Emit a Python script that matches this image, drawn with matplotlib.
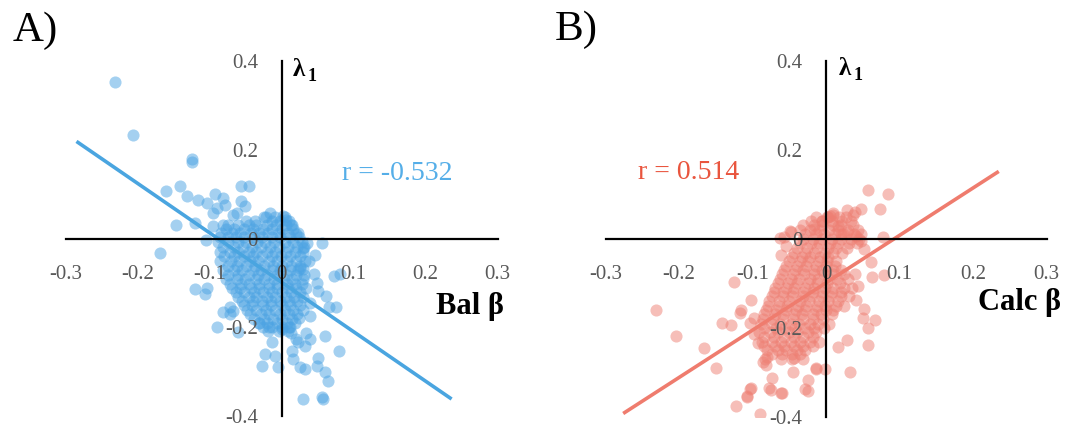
import matplotlib
matplotlib.use('Agg')
import matplotlib.pyplot as plt

plt.rcParams['font.family'] = ['Liberation Serif', 'DejaVu Serif']

# ---------------- data ----------------
x_ticks = [-0.3, -0.2, -0.1, 0, 0.1, 0.2, 0.3]
x_tick_labels = ['-0.3', '-0.2', '-0.1', '0', '0.1', '0.2', '0.3']
y_ticks = [-0.4, -0.2, 0, 0.2, 0.4]
y_tick_labels = ['-0.4', '-0.2', '0', '0.2', '0.4']

panel_labels = ['A)', 'B)']
x_axis_titles = ['Bal β', 'Calc β']
r_values = [-0.532, 0.514]

# Panel A (Bal beta vs lambda1): scattered points read individually
bal_points = [
    (-0.231, 0.353), (-0.206, 0.233), (-0.125, 0.180), (-0.125, 0.172), (-0.141, 0.120),
    (-0.161, 0.107), (-0.132, 0.097), (-0.116, 0.088), (-0.104, 0.081), (-0.093, 0.100),
    (-0.081, 0.092), (-0.079, 0.077), (-0.090, 0.070), (-0.095, 0.058), (-0.056, 0.120),
    (-0.046, 0.118), (-0.056, 0.085), (-0.051, 0.073), (-0.062, 0.058), (-0.147, 0.032),
    (-0.016, 0.058), (-0.025, 0.050), (-0.169, -0.032), (-0.121, 0.036), (-0.105, -0.002),
    (-0.095, 0.028), (-0.081, 0.032), (-0.067, 0.054), (0.002, 0.051), (0.006, 0.043),
    (0.015, 0.030), (0.020, 0.011),
    (0.056, -0.009), (0.046, -0.036), (0.030, -0.069), (0.025, -0.066), (0.072, -0.084),
    (0.081, -0.080), (0.049, -0.099), (0.051, -0.118), (0.062, -0.130), (0.066, -0.153),
    (0.076, -0.155), (0.040, -0.145), (0.038, -0.050), (0.030, -0.020), (0.035, -0.010),
    (0.045, -0.080),
    (-0.120, -0.114), (-0.104, -0.110), (-0.106, -0.125), (-0.072, -0.155), (-0.072, -0.170),
    (-0.081, -0.166), (-0.090, -0.200), (-0.060, -0.211), (-0.067, -0.164),
    (-0.023, -0.260), (-0.009, -0.264), (-0.028, -0.286), (-0.005, -0.290), (0.014, -0.253),
    (0.016, -0.271), (0.025, -0.290), (0.032, -0.294), (0.051, -0.268), (0.049, -0.286),
    (0.060, -0.301), (0.065, -0.320), (0.030, -0.361), (0.056, -0.357), (0.058, -0.362),
    (0.079, -0.253), (0.060, -0.219), (0.039, -0.226), (0.032, -0.241), (0.023, -0.233),
    (-0.013, -0.232), (0.013, -0.213), (0.010, -0.200), (0.000, -0.204), (-0.018, -0.198),
    (-0.032, -0.190), (0.024, -0.178), (0.039, -0.175), (0.034, -0.213), (0.020, -0.226),
]

# Panel A dense core, read row by row (y, list of x)
bal_blob_rows = [
    (0.048, [-0.022, -0.009, 0.004]),
    (0.040, [-0.050, -0.037, -0.014, -0.002, 0.010]),
    (0.031, [-0.074, -0.061, -0.046, -0.035, -0.020, -0.008, 0.006, 0.013]),
    (0.021, [-0.078, -0.066, -0.052, -0.040, -0.026, -0.013, 0.000, 0.016]),
    (0.012, [-0.084, -0.069, -0.058, -0.043, -0.031, -0.019, -0.004, 0.009, 0.022]),
    (0.003, [-0.086, -0.075, -0.064, -0.052, -0.038, -0.027, -0.013, -0.002, 0.012, 0.024]),
    (-0.008, [-0.088, -0.075, -0.060, -0.049, -0.034, -0.023, -0.010, 0.005, 0.016, 0.028]),
    (-0.018, [-0.082, -0.066, -0.054, -0.041, -0.029, -0.016, -0.004, 0.009, 0.021, 0.031]),
    (-0.029, [-0.086, -0.072, -0.061, -0.046, -0.035, -0.020, -0.009, 0.006, 0.019, 0.030]),
    (-0.040, [-0.080, -0.066, -0.053, -0.040, -0.027, -0.014, -0.001, 0.012, 0.025]),
    (-0.051, [-0.085, -0.070, -0.059, -0.044, -0.033, -0.018, -0.007, 0.008, 0.020, 0.033]),
    (-0.061, [-0.075, -0.062, -0.050, -0.037, -0.025, -0.012, 0.000, 0.013, 0.025]),
    (-0.070, [-0.081, -0.066, -0.055, -0.040, -0.029, -0.014, -0.003, 0.012, 0.023]),
    (-0.081, [-0.074, -0.060, -0.046, -0.033, -0.020, -0.007, 0.007, 0.020, 0.031]),
    (-0.091, [-0.077, -0.062, -0.051, -0.036, -0.025, -0.010, 0.003, 0.014, 0.029]),
    (-0.101, [-0.072, -0.056, -0.045, -0.031, -0.018, -0.006, 0.008, 0.019, 0.028]),
    (-0.110, [-0.069, -0.058, -0.043, -0.032, -0.017, -0.006, 0.009, 0.020, 0.034]),
    (-0.121, [-0.064, -0.052, -0.039, -0.026, -0.013, 0.000, 0.013, 0.025]),
    (-0.131, [-0.061, -0.046, -0.035, -0.020, -0.009, 0.006, 0.017, 0.030]),
    (-0.140, [-0.055, -0.040, -0.028, -0.015, -0.002, 0.010, 0.021]),
    (-0.149, [-0.052, -0.041, -0.026, -0.015, 0.000, 0.011, 0.026]),
    (-0.160, [-0.048, -0.035, -0.022, -0.009, 0.004, 0.016, 0.029]),
    (-0.170, [-0.044, -0.029, -0.018, -0.003, 0.010, 0.021]),
    (-0.180, [-0.038, -0.025, -0.012, 0.001, 0.014]),
    (-0.189, [-0.032, -0.021, -0.006, 0.007, 0.018]),
    (-0.198, [-0.026, -0.013, 0.000, 0.012]),
    (-0.208, [-0.019, -0.004, 0.009]),
]

# Panel B (Calc beta vs lambda1)
calc_points = [
    (0.057, 0.110), (0.084, 0.102), (0.073, 0.068), (0.048, 0.068), (0.039, 0.061),
    (0.029, 0.065), (0.009, 0.058), (0.002, 0.050), (0.077, 0.005), (0.061, -0.052),
    (0.063, -0.086), (0.079, -0.082), (0.039, -0.079), (0.043, -0.105), (0.041, -0.138),
    (0.052, -0.157), (0.066, -0.183), (0.050, -0.179), (0.057, -0.200), (0.057, -0.239),
    (0.029, -0.228), (0.016, -0.243), (0.032, -0.299), (-0.014, -0.291), (-0.002, -0.294),
    (-0.025, -0.317), (-0.025, -0.343), (-0.045, -0.299), (-0.044, -0.267), (-0.061, -0.347),
    (-0.073, -0.314), (-0.075, -0.340), (-0.102, -0.336), (-0.107, -0.355), (-0.122, -0.377),
    (-0.090, -0.395), (-0.086, -0.276), (-0.082, -0.283), (-0.150, -0.291), (-0.166, -0.246),
    (-0.141, -0.190), (-0.129, -0.194), (-0.125, -0.097), (-0.116, -0.160), (-0.102, -0.138),
    (-0.098, -0.179), (-0.098, -0.213), (-0.093, -0.235), (-0.061, -0.037), (-0.054, -0.015),
    (-0.048, 0.015), (-0.057, 0.004), (-0.016, 0.022), (-0.005, 0.041), (0.005, 0.052),
    (0.016, 0.030), (0.020, 0.011), (0.029, 0.015), (0.041, 0.007), (0.048, -0.004),
    (0.052, -0.022), (-0.2045, -0.219), (-0.232, -0.159), (-0.103, -0.189), (-0.078, -0.335),
    (-0.103, -0.339), (-0.108, -0.354), (-0.060, -0.346), (-0.029, -0.339), (-0.013, -0.294),
    (-0.063, 0.002), (-0.049, 0.017), (0.010, 0.054), (0.037, 0.054), (-0.117, -0.167),
    (-0.083, -0.271), (-0.080, -0.265),
]

calc_blob_rows = [
    (0.049, [-0.013, 0.001, 0.017, 0.027]),
    (0.040, [-0.020, -0.006, 0.008, 0.022, 0.034]),
    (0.031, [-0.031, -0.016, -0.005, 0.010, 0.021, 0.036]),
    (0.021, [-0.036, -0.022, -0.010, 0.004, 0.016, 0.030, 0.043]),
    (0.011, [-0.029, -0.014, -0.003, 0.012, 0.023, 0.038, 0.048]),
    (0.001, [-0.032, -0.018, -0.006, 0.008, 0.020, 0.034, 0.045]),
    (-0.009, [-0.036, -0.021, -0.010, 0.005, 0.016, 0.031, 0.042]),
    (-0.020, [-0.040, -0.026, -0.012, 0.002, 0.014, 0.028]),
    (-0.031, [-0.043, -0.028, -0.017, -0.002, 0.009, 0.022]),
    (-0.040, [-0.047, -0.033, -0.022, -0.008, 0.003]),
    (-0.050, [-0.051, -0.036, -0.025, -0.010, 0.001, 0.014]),
    (-0.060, [-0.054, -0.040, -0.027, -0.013, 0.000, 0.012]),
    (-0.071, [-0.057, -0.042, -0.031, -0.016, -0.005, 0.010, 0.021]),
    (-0.080, [-0.060, -0.045, -0.030, -0.016, -0.003, 0.010, 0.024]),
    (-0.090, [-0.063, -0.048, -0.037, -0.022, -0.011, 0.004, 0.015, 0.030]),
    (-0.100, [-0.066, -0.052, -0.039, -0.025, -0.012, 0.001, 0.019]),
    (-0.111, [-0.069, -0.054, -0.043, -0.028, -0.017, -0.002, 0.009, 0.024, 0.035]),
    (-0.120, [-0.071, -0.058, -0.045, -0.031, -0.018, -0.005, 0.008, 0.021]),
    (-0.129, [-0.073, -0.058, -0.047, -0.032, -0.021, -0.006, 0.005, 0.020, 0.031]),
    (-0.140, [-0.077, -0.064, -0.050, -0.036, -0.023, -0.010, 0.003, 0.016]),
    (-0.151, [-0.079, -0.064, -0.053, -0.038, -0.027, -0.012, -0.001, 0.014, 0.025]),
    (-0.160, [-0.082, -0.068, -0.055, -0.041, -0.028, -0.014, 0.000, 0.010]),
    (-0.170, [-0.085, -0.070, -0.059, -0.044, -0.033, -0.018, -0.007, 0.008]),
    (-0.180, [-0.086, -0.072, -0.058, -0.045, -0.031, -0.018, -0.004]),
    (-0.191, [-0.089, -0.074, -0.063, -0.048, -0.037, -0.022, -0.011, 0.004]),
    (-0.200, [-0.084, -0.068, -0.056, -0.042, -0.029, -0.016, -0.003]),
    (-0.209, [-0.091, -0.076, -0.065, -0.050, -0.039, -0.024, -0.013]),
    (-0.220, [-0.085, -0.071, -0.057, -0.044, -0.031, -0.018]),
    (-0.231, [-0.087, -0.074, -0.061, -0.048, -0.035, -0.022, -0.009]),
    (-0.240, [-0.084, -0.070, -0.057, -0.044, -0.031, -0.018]),
    (-0.250, [-0.081, -0.066, -0.055, -0.040, -0.029]),
    (-0.260, [-0.074, -0.060, -0.047, -0.035]),
    (-0.271, [-0.061, -0.046, -0.031]),
]

# Linear trend lines
bal_trend_x = [-0.285, 0.236]
bal_slope, bal_intercept = -1.115, -0.0983
calc_trend_x = [-0.276, 0.235]
calc_slope, calc_intercept = 1.067, -0.0986

# ---------------- styling ----------------
BLUE_PT, BLUE_LINE, BLUE_TXT = '#4BA3E3', '#4AA5E0', '#55AEE8'
RED_PT, RED_LINE, RED_TXT = '#EE7E72', '#EF7C6E', '#E9553E'
TICK_COL = '#595959'


def expand(points, rows):
    xs = [p[0] for p in points]
    ys = [p[1] for p in points]
    for yv, xr in rows:
        for xv in xr:
            xs.append(xv)
            ys.append(yv)
    return xs, ys


fig = plt.figure(figsize=(10.68, 4.29), dpi=100)
axA = fig.add_axes([0.0615, 0.0300, 0.4045, 0.8270])
axB = fig.add_axes([0.5670, 0.0290, 0.4129, 0.8280])

panels = [
    (axA, expand(bal_points, bal_blob_rows), bal_trend_x, bal_slope, bal_intercept,
     BLUE_PT, BLUE_LINE, BLUE_TXT, (0.160, 0.133), (0.309, -0.170), (0.0156, 0.367)),
    (axB, expand(calc_points, calc_blob_rows), calc_trend_x, calc_slope, calc_intercept,
     RED_PT, RED_LINE, RED_TXT, (-0.1875, 0.136), (0.3195, -0.161), (0.0175, 0.369)),
]

for i, (ax, (xs, ys), tx, sl, ic, cpt, cln, ctx, rpos, tpos, lpos) in enumerate(panels):
    ax.set_xlim(-0.3, 0.3)
    ax.set_ylim(-0.4, 0.4)
    ax.patch.set_alpha(0)
    for s in ['top', 'right']:
        ax.spines[s].set_visible(False)
    for s in ['left', 'bottom']:
        ax.spines[s].set_position(('data', 0))
        ax.spines[s].set_linewidth(1.6)
        ax.spines[s].set_color('black')
    ax.set_xticks(x_ticks)
    ax.set_xticklabels(x_tick_labels)
    ax.set_yticks(y_ticks)
    ax.set_yticklabels(y_tick_labels)
    ax.tick_params(axis='x', length=0, pad=19, labelsize=15, labelcolor=TICK_COL)
    ax.tick_params(axis='y', length=0, pad=17, labelsize=15, labelcolor=TICK_COL)

    ax.scatter(xs, ys, s=76, color=cpt, alpha=0.5, linewidths=0, zorder=1)
    ty = [sl * v + ic for v in tx]
    ax.plot(tx, ty, color=cln, lw=2.6, solid_capstyle='butt', zorder=2)

    ax.text(rpos[0], rpos[1], f'r = {r_values[i]:.3f}', color=ctx, fontsize=20,
            ha='center', va='baseline')
    ax.text(tpos[0], tpos[1], x_axis_titles[i], color='black', fontsize=22,
            fontweight='bold', ha='right', va='baseline', clip_on=False)
    ax.text(lpos[0], lpos[1], 'λ', color='black', fontsize=18, fontweight='bold',
            ha='left', va='baseline', clip_on=False)
    ax.annotate('1', xy=lpos, xytext=(10.5, -3.5), textcoords='offset points',
                fontsize=13, fontweight='bold', ha='left', va='baseline',
                annotation_clip=False)

fig.text(12.7 / 1068, 1 - 40.7 / 429, panel_labels[0], fontsize=31, va='baseline', ha='left')
fig.text(555 / 1068, 1 - 40.0 / 429, panel_labels[1], fontsize=31, va='baseline', ha='left')

fig.savefig('out.png', dpi=100)
